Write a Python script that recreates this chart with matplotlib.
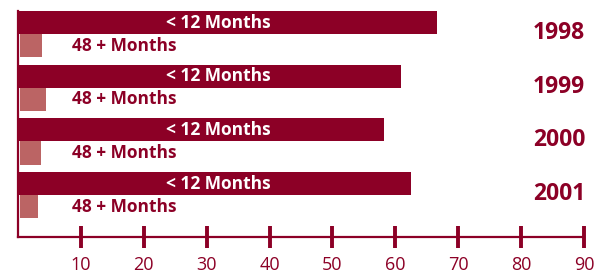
import numpy as np
import matplotlib.pyplot as plt

years = ["1998", "1999", "2000", "2001"]
under_12 = [66.6, 60.9, 58.2, 62.5]
over_48 = [3.5, 4.1, 3.3, 2.9]
ticks = [10, 20, 30, 40, 50, 60, 70, 80, 90]

DARK = "#8c0026"
LIGHT = "#bb6464"

plt.rcParams["font.family"] = ["Open Sans", "DejaVu Sans"]

fig = plt.figure(figsize=(6.05, 2.78), dpi=100)
ax = fig.add_axes([18 / 605, 41 / 278, 566 / 605, 226 / 278])

pos = np.arange(len(years))
h = 0.43

ax.barh(pos + h / 2, under_12, height=h, color=DARK, linewidth=0)
ax.barh(pos + 1.5 * h, over_48, height=h, left=0.3, color=LIGHT, linewidth=0)

for i, yr in enumerate(years):
    ax.text(31.9, i + h / 2, "< 12 Months", color="white", fontsize=12.5,
            fontweight="bold", ha="center", va="center")
    ax.text(8.6, i + 1.5 * h, "48 + Months", color=DARK, fontsize=12.5,
            fontweight="bold", ha="left", va="center")
    ax.text(90.2, i + 0.41, yr, color=DARK, fontsize=16.5,
            fontweight="bold", ha="right", va="center")

ax.set_xlim(0, 90)
ax.set_ylim(4.21, 0)

ax.spines["top"].set_visible(False)
ax.spines["right"].set_visible(False)
for s in ("left", "bottom"):
    ax.spines[s].set_color(DARK)
    ax.spines[s].set_linewidth(1.6)

ax.set_yticks([])
ax.set_xticks(ticks)
ax.set_xticklabels([str(t) for t in ticks])
ax.tick_params(axis="x", direction="inout", length=16, width=2.8,
               color=DARK, labelcolor=DARK, labelsize=13, pad=6)

fig.savefig("out.png", dpi=100)
